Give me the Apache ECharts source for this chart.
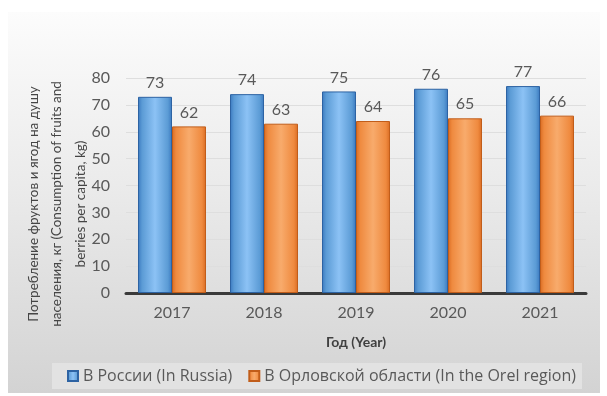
<!DOCTYPE html>
<html>
<head>
<meta charset="utf-8">
<script src="https://cdn.jsdelivr.net/npm/echarts@6/dist/echarts.min.js"></script>
<style>
  html, body { margin: 0; padding: 0; background: #ffffff; }
  #chart { width: 607px; height: 396px; }
</style>
</head>
<body>
<div id="chart"></div>
<script>
// Fruit and berry consumption per capita, kg
const years = ['2017', '2018', '2019', '2020', '2021'];
const russia = [73, 74, 75, 76, 77];
const orel = [62, 63, 64, 65, 66];
const seriesNames = ['В России (In Russia)', 'В Орловской области (In the Orel region)'];
const yTicks = [0, 10, 20, 30, 40, 50, 60, 70, 80];
const yTitle = 'Потребление фруктов и ягод на душу\nнаселения, кг (Consumption of fruits and\nberries per capita, kg)';

const FONT = 'Lato, "Open Sans", sans-serif';
const WIDE_FONT = '"Open Sans", Lato, sans-serif';
const TEXT = '#595959';

function barGradient(dark, mid, light) {
  return new echarts.graphic.LinearGradient(0, 0, 1, 0, [
    { offset: 0, color: dark },
    { offset: 0.12, color: mid },
    { offset: 0.5, color: light },
    { offset: 0.88, color: mid },
    { offset: 1, color: dark }
  ]);
}

const chart = echarts.init(document.getElementById('chart'), null, { renderer: 'canvas' });

chart.setOption({
  animation: false,
  graphic: [
    {
      type: 'rect',
      z: -10,
      shape: { x: 8, y: 12, width: 592, height: 381 },
      style: {
        fill: new echarts.graphic.LinearGradient(0, 0, 0, 1, [
          { offset: 0, color: '#fcfcfc' },
          { offset: 0.45, color: '#ebebeb' },
          { offset: 1, color: '#d3d3d3' }
        ])
      }
    },
    {
      // vertical axis title, reading bottom to top
      type: 'text',
      x: 57,
      y: 204,
      rotation: Math.PI / 2,
      style: {
        text: yTitle,
        font: '13.5px ' + FONT,
        fill: '#454545',
        textAlign: 'center',
        textVerticalAlign: 'middle',
        lineHeight: 23.5
      }
    }
  ],
  grid: { left: 126, right: 21, top: 78, bottom: 103 },
  legend: {
    top: 363,
    left: 52,
    padding: [5, 6, 5, 15],
    backgroundColor: '#e2e2e2',
    itemWidth: 10,
    itemHeight: 10,
    itemGap: 16,
    icon: 'rect',
    textStyle: { fontFamily: WIDE_FONT, fontSize: 16, color: TEXT },
    data: seriesNames
  },
  xAxis: {
    type: 'category',
    data: years,
    name: 'Год (Year)',
    nameLocation: 'middle',
    nameGap: 42,
    nameTextStyle: { fontFamily: FONT, fontSize: 14, fontWeight: 'bold', color: '#404040' },
    axisLine: { lineStyle: { color: '#3a3a3a', width: 3 } },
    axisTick: { show: false },
    axisLabel: { fontFamily: FONT, fontSize: 16, color: TEXT, margin: 12 }
  },
  yAxis: {
    type: 'value',
    min: 0,
    max: 80,
    interval: 10,
    axisLine: { show: false },
    axisTick: { show: false },
    axisLabel: {
      fontFamily: FONT, fontSize: 16, color: TEXT, margin: 16,
      formatter: v => (yTicks.indexOf(v) >= 0 ? String(v) : '')
    },
    splitLine: { lineStyle: { color: '#dedede', width: 1 } }
  },
  series: [
    {
      name: seriesNames[0],
      type: 'bar',
      data: russia,
      barWidth: 34,
      barGap: '0%',
      itemStyle: {
        color: barGradient('#3a78bf', '#5b9bd5', '#8cc2f5'),
        borderColor: '#2d63a3',
        borderWidth: 1
      },
      label: {
        show: true, position: 'top', distance: 6,
        fontFamily: FONT, fontSize: 16, color: TEXT
      }
    },
    {
      name: seriesNames[1],
      type: 'bar',
      data: orel,
      barWidth: 34,
      itemStyle: {
        color: barGradient('#d96b22', '#ef8a3f', '#f8ab6c'),
        borderColor: '#c15d1a',
        borderWidth: 1
      },
      label: {
        show: true, position: 'top', distance: 6,
        fontFamily: FONT, fontSize: 16, color: TEXT
      }
    }
  ]
});
</script>
</body>
</html>
